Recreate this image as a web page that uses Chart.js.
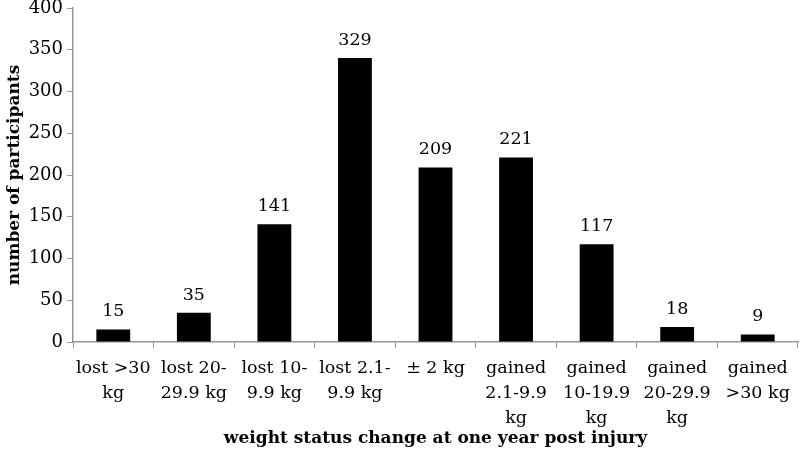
<!DOCTYPE html>
<html>
<head>
<meta charset="utf-8">
<script src="https://cdn.jsdelivr.net/npm/chart.js@4.4.1/dist/chart.umd.min.js"></script>
<style>
  html, body { margin: 0; padding: 0; background: #fff; }
  #wrap { width: 800px; height: 460px; position: relative; }
</style>
</head>
<body>
<div id="wrap"><canvas id="chart"></canvas></div>
<script>
  // ========================================
  // Data
  // ========================================

  const categories = [
    ['lost >30', 'kg'],
    ['lost 20-', '29.9 kg'],
    ['lost 10-', '9.9 kg'],
    ['lost 2.1-', '9.9 kg'],
    ['\u00b1 2 kg'],
    ['gained', '2.1-9.9', 'kg'],
    ['gained', '10-19.9', 'kg'],
    ['gained', '20-29.9', 'kg'],
    ['gained', '>30 kg']
  ];
  // bar heights as drawn in the picture
  const barValues = [15, 35, 141, 340, 209, 221, 117, 18, 9];
  // numbers printed above the bars
  const valueLabels = ['15', '35', '141', '329', '209', '221', '117', '18', '9'];
  const yTicks = [0, 50, 100, 150, 200, 250, 300, 350, 400];

  const FONT = '"DejaVu Serif", serif';
  const AXIS_COLOR = '#959595';

  // ========================================
  // Value labels plugin
  // ========================================

  const valueLabelPlugin = {
    id: 'valueLabels',
    afterDatasetsDraw(chart) {
      const ctx = chart.ctx;
      const meta = chart.getDatasetMeta(0);
      ctx.save();
      ctx.font = '17.5px ' + FONT;
      ctx.fillStyle = '#000';
      ctx.textAlign = 'center';
      ctx.textBaseline = 'alphabetic';
      meta.data.forEach((bar, i) => {
        ctx.fillText(valueLabels[i], bar.x, bar.y - 13);
      });
      ctx.restore();
    }
  };

  // ========================================
  // Chart
  // ========================================

  new Chart(document.getElementById('chart'), {
    type: 'bar',
    data: {
      labels: categories,
      datasets: [{
        data: barValues,
        backgroundColor: '#000',
        borderWidth: 0,
        barPercentage: 0.42,
        categoryPercentage: 1
      }]
    },
    options: {
      responsive: true,
      maintainAspectRatio: false,
      animation: false,
      layout: { padding: { top: 0, right: 2, left: 0, bottom: 0 } },
      plugins: {
        legend: { display: false },
        tooltip: { enabled: false }
      },
      scales: {
        x: {
          grid: {
            display: true,
            drawOnChartArea: false,
            offset: true,
            color: AXIS_COLOR,
            tickLength: 6,
            tickColor: AXIS_COLOR
          },
          border: { color: AXIS_COLOR, width: 1.5 },
          ticks: {
            color: '#000',
            maxRotation: 0,
            autoSkip: false,
            padding: 8,
            font: { family: FONT, size: 17.5, lineHeight: 1.42 }
          },
          title: {
            display: true,
            text: 'weight status change at one year post injury',
            color: '#000',
            padding: { top: 8, bottom: 11 },
            font: { family: FONT, size: 17, weight: 'bold' }
          },
          afterFit(scale) { scale.height = 118; }
        },
        y: {
          min: 0,
          max: 400,
          afterBuildTicks(scale) {
            scale.ticks = yTicks.map(v => ({ value: v }));
          },
          grid: {
            display: true,
            drawOnChartArea: false,
            color: AXIS_COLOR,
            tickLength: 6,
            tickColor: AXIS_COLOR
          },
          border: { color: AXIS_COLOR, width: 1.5 },
          ticks: {
            color: '#000',
            padding: 4,
            font: { family: FONT, size: 18 }
          },
          title: {
            display: true,
            text: 'number of participants',
            color: '#000',
            padding: { top: 4, bottom: 0 },
            font: { family: FONT, size: 17, weight: 'bold' }
          },
          afterFit(scale) {
            scale.width = 73;
            scale.paddingTop = 8;
            scale.paddingBottom = 0;
          }
        }
      }
    },
    plugins: [valueLabelPlugin]
  });
</script>
</body>
</html>
